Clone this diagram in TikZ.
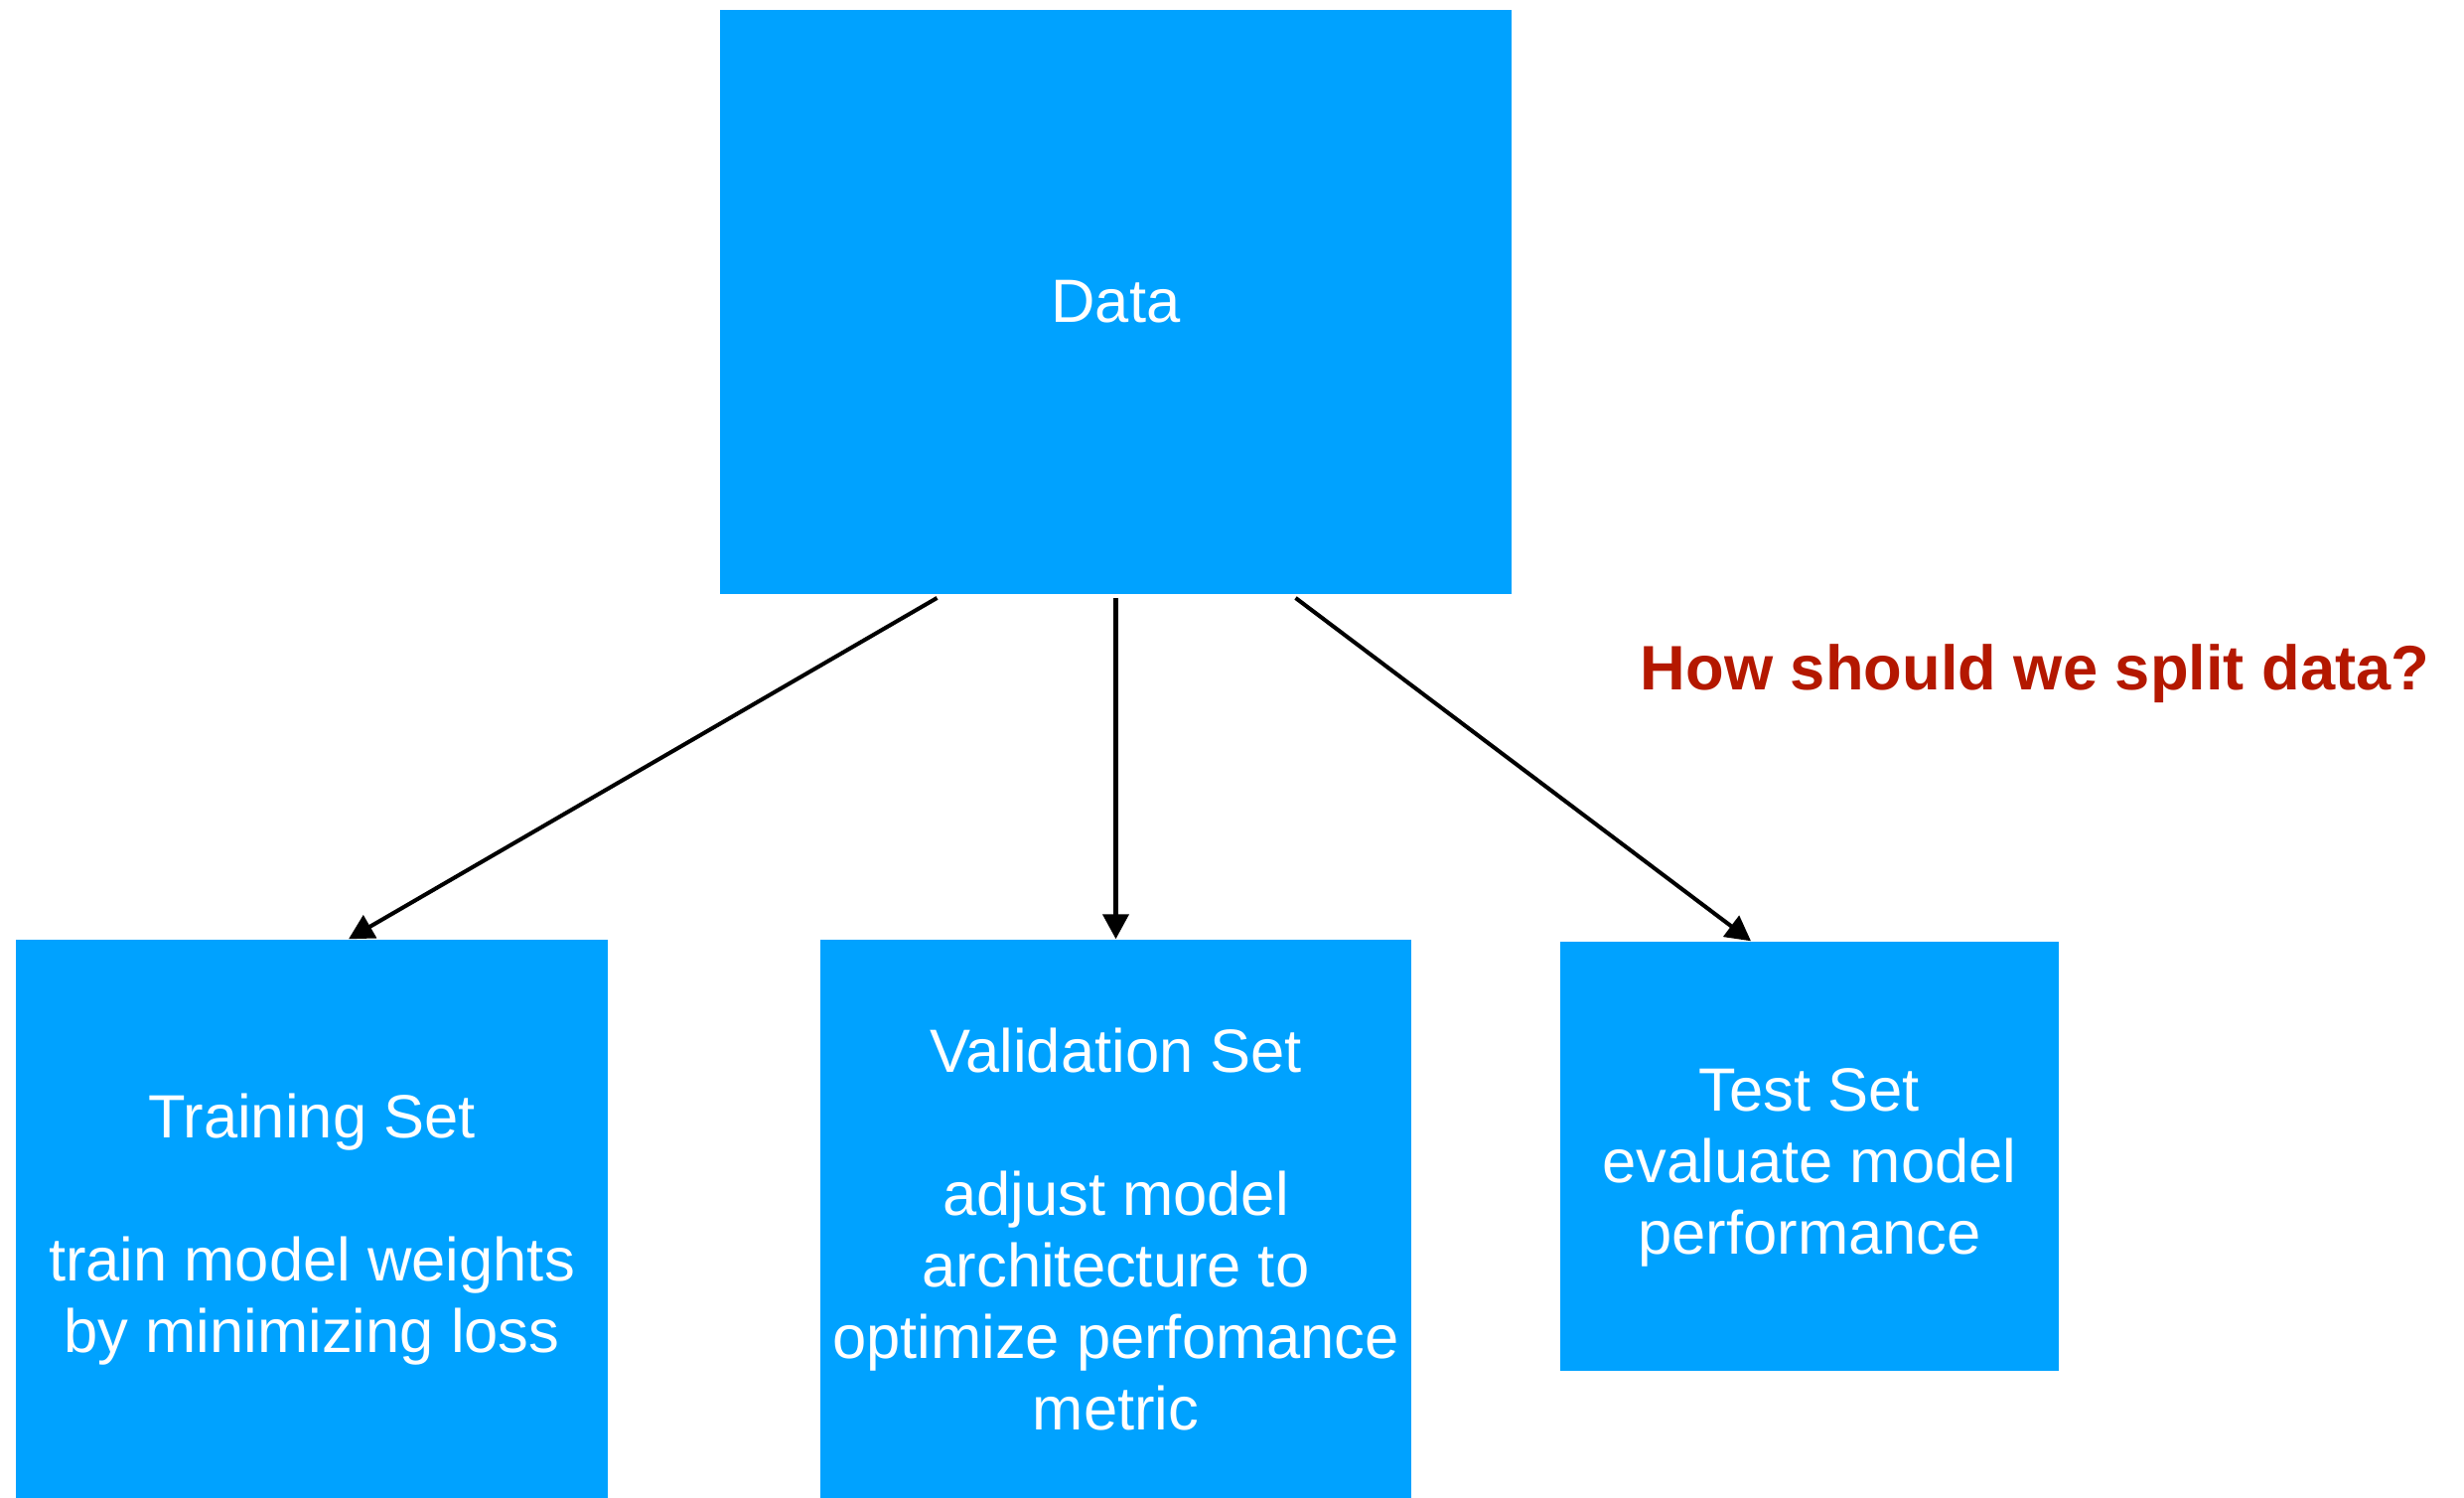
\documentclass[tikz,border=0pt]{standalone}
\usepackage{fontspec}
\setmainfont{Liberation Sans}
\usepackage{tikz}
\usetikzlibrary{arrows.meta}

\definecolor{setblue}{RGB}{0,162,255}
\definecolor{askred}{RGB}{180,24,0}

\newcommand{\firstline}{\rule{0pt}{18.5pt}}

\tikzset{
    setbox/.style = {fill = setblue, text = white, inner sep = 0pt, align = center,
        font = \fontsize{17.5}{20.5}\selectfont},
    splitarrow/.style = {color = black!100, line width = 1.15pt,
        -{Triangle[length = 2.5mm, width = 2.6mm]}}
}

\begin{document}
\begin{tikzpicture}
    \def\w{24.81}
    \def\h{15.08}
    \useasboundingbox (0, 0) rectangle (\w, -\h);

    \node[setbox, minimum width = 7.97cm, minimum height = 5.885cm] (data) at (11.235, -3.04) {Data};

    \node[setbox, minimum width = 5.96cm, minimum height = 5.62cm] (train) at (3.14, -12.27)
        {\firstline Training Set\\[20.5pt]train model weights\\by minimizing loss};
    \node[setbox, minimum width = 5.95cm, minimum height = 5.62cm] (valid) at (11.235, -12.27)
        {\firstline Validation Set\\[20.5pt]adjust model\\architecture to\\optimize perfomance\\metric};
    \node[setbox, minimum width = 5.02cm, minimum height = 4.32cm] (test) at (18.22, -11.64)
        {\firstline Test Set\\evaluate model\\performance};

    \draw[splitarrow] ([xshift = -1.80cm, yshift = -0.03cm]data.south) -- ([xshift = 0.37cm]train.north);
    \draw[splitarrow] ([yshift = -0.03cm]data.south) -- (valid.north);
    \draw[splitarrow] ([xshift = 1.81cm, yshift = -0.03cm]data.south) -- ([xshift = -0.59cm]test.north);

    % question beside the split
    \node[anchor = base, text = askred, font = \fontsize{18}{21}\selectfont\bfseries] (ask) at (20.49, -6.95)
        {How should we split data?};
\end{tikzpicture}
\end{document}
